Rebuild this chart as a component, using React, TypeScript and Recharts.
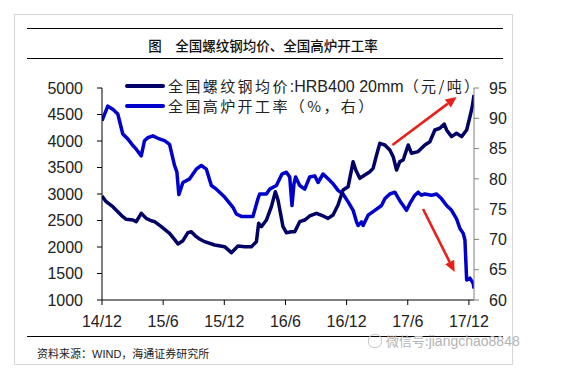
import React from "react";
import { LineChart, Line, XAxis, YAxis, ReferenceLine, Legend } from "recharts";

// x = months since 2014-12
const priceMonths = [0, 0.41, 1.06, 1.55, 2.04, 2.38, 3.03, 3.36, 3.85, 4.34, 4.83, 5.16, 5.82, 6.63, 7.29, 7.45, 7.94, 8.43, 8.76, 9.25, 9.58, 10.07, 11.05, 12.03, 12.69, 13.34, 14.0, 14.66, 15.15, 15.37, 15.64, 16.13, 16.62, 17.01, 17.27, 17.76, 18.09, 18.59, 18.91, 19.4, 19.89, 20.38, 21.04, 21.69, 22.18, 22.67, 23.16, 23.65, 24.15, 24.64, 24.9, 25.29, 25.79, 26.28, 26.6, 26.94, 27.26, 27.75, 28.24, 28.57, 28.9, 29.22, 29.55, 30.04, 30.37, 31.02, 31.68, 32.17, 32.66, 33.15, 33.58, 33.81, 34.3, 34.79, 35.28, 35.78, 36.1, 36.33, 36.5];
const priceValues = [2960, 2855, 2760, 2666, 2572, 2522, 2509, 2478, 2635, 2540, 2496, 2478, 2383, 2258, 2100, 2057, 2119, 2270, 2289, 2195, 2150, 2100, 2038, 2006, 1893, 2019, 2006, 2006, 2100, 2447, 2383, 2509, 2761, 3043, 2887, 2383, 2270, 2289, 2289, 2478, 2509, 2585, 2635, 2585, 2540, 2604, 2792, 3075, 3138, 3610, 3453, 3296, 3358, 3420, 3484, 3736, 3955, 3925, 3830, 3704, 3453, 3610, 3642, 3925, 3768, 3800, 3925, 3987, 4208, 4240, 4320, 4208, 4082, 4145, 4082, 4208, 4458, 4647, 4868];

const rateMonths = [0, 0.57, 1.06, 1.55, 2.04, 2.53, 3.03, 3.36, 3.85, 4.17, 4.5, 4.99, 5.48, 6.14, 6.63, 7.12, 7.35, 7.54, 7.94, 8.6, 9.25, 9.74, 10.24, 10.73, 11.22, 12.03, 12.85, 13.18, 13.67, 14.81, 15.3, 15.47, 16.13, 16.45, 17.11, 17.66, 18.09, 18.42, 18.64, 18.84, 19.0, 19.4, 19.89, 20.38, 20.87, 21.2, 21.69, 22.18, 22.67, 23.16, 23.65, 24.15, 24.64, 24.97, 25.13, 25.46, 25.62, 26.11, 26.77, 27.43, 27.75, 28.24, 28.73, 29.22, 29.55, 29.88, 30.2, 30.7, 31.02, 31.35, 31.68, 32.34, 32.83, 33.32, 33.81, 34.3, 34.79, 35.12, 35.44, 35.61, 35.78, 36.1, 36.43, 36.5];
const rateValues = [89.6, 92.0, 91.5, 90.7, 87.4, 86.6, 85.5, 84.9, 83.8, 86.3, 86.8, 87.1, 86.7, 86.3, 85.7, 82.2, 81.1, 77.4, 79.4, 80.0, 81.6, 82.2, 81.6, 78.9, 78.3, 77.0, 75.3, 74.2, 73.8, 73.8, 76.7, 77.5, 77.5, 78.3, 78.9, 80.8, 81.1, 80.3, 75.6, 79.2, 80.3, 78.9, 78.3, 80.3, 80.5, 79.4, 80.8, 80.0, 79.2, 78.1, 77.5, 76.2, 74.8, 72.9, 72.3, 72.9, 72.3, 74.0, 74.8, 75.6, 76.7, 77.5, 77.8, 76.4, 75.6, 74.8, 75.9, 77.3, 77.8, 77.3, 77.5, 77.3, 77.5, 76.7, 75.6, 74.8, 73.4, 71.8, 71.0, 69.9, 63.3, 63.6, 62.7, 61.9];

const xTicks = [0, 6, 12, 18, 24, 30, 36];
const xTickLabels = ["14/12", "15/6", "15/12", "16/6", "16/12", "17/6", "17/12"];
const leftTicks = [1000, 1500, 2000, 2500, 3000, 3500, 4000, 4500, 5000];
const rightTicks = [60, 65, 70, 75, 80, 85, 90, 95];

const priceName = "全国螺纹钢均价:HRB400 20mm（元/吨）";
const rateName = "全国高炉开工率（%，右）";

// arrows: [x1, y1, x2, y2] in data units (left axis)
const upArrow = [28.5, 3925, 34.8, 4830];
const downArrow = [31.5, 2717, 34.6, 1530];

const priceData = priceMonths.map((m, i) => ({ m, v: priceValues[i] }));
const rateData = rateMonths.map((m, i) => ({ m, v: rateValues[i] }));

const DARK = "#000066";
const BLUE = "#0000cc";
const RED = "#e8201a";

const ArrowShape = (props: any) => {
  const { x1, y1, x2, y2 } = props;
  if ([x1, y1, x2, y2].some((v) => typeof v !== "number" || isNaN(v))) return null;
  const dx = x2 - x1;
  const dy = y2 - y1;
  const len = Math.sqrt(dx * dx + dy * dy);
  const ux = dx / len;
  const uy = dy / len;
  const hl = 11;
  const hw = 5;
  const bx = x2 - ux * hl;
  const by = y2 - uy * hl;
  const px = -uy;
  const py = ux;
  const pts = `${x2},${y2} ${bx + px * hw},${by + py * hw} ${bx - px * hw},${by - py * hw}`;
  return (
    <g>
      <line x1={x1} y1={y1} x2={bx} y2={by} stroke={RED} strokeWidth={2.6} />
      <polygon points={pts} fill={RED} />
    </g>
  );
};

const cjk = "'Noto Sans CJK SC', sans-serif";
const latin = "'Liberation Sans', Arial, 'Noto Sans CJK SC', sans-serif";

const LegendRow = ({ color, parts }: { color: string; parts: [string, boolean][] }) => (
  <div style={{ display: "flex", alignItems: "center", height: 20 }}>
    <div style={{ width: 40, height: 4, background: color, borderRadius: 2, marginRight: 3 }} />
    <div style={{ whiteSpace: "nowrap", color: "#222", lineHeight: "18px", height: 18, overflow: "visible" }}>
      {parts.map(([t, isCjk], i) => (
        <span
          key={i}
          style={
            isCjk
              ? { fontFamily: cjk, fontSize: 15, letterSpacing: 2.4 }
              : { fontFamily: latin, fontSize: 16 }
          }
        >
          {t}
        </span>
      ))}
    </div>
  </div>
);

const renderLegend = () => (
  <div style={{ textAlign: "left" }}>
    <LegendRow
      color={DARK}
      parts={[
        ["全国螺纹钢均价", true],
        [":HRB400 20mm", false],
        ["（元/吨）", true],
      ]}
    />
    <LegendRow color={BLUE} parts={[["全国高炉开工率（%，右）", true]]} />
  </div>
);

export default function App() {
  return (
    <div style={{ position: "absolute", left: 0, top: 0, width: 563, height: 377, background: "#fff", overflow: "hidden" }}>
      <div style={{ position: "absolute", left: 14, top: 14, width: 497, height: 349, border: "1px solid #d6d6d6" }} />
      <div style={{ position: "absolute", left: 27, top: 28, width: 476, height: 1, background: "#000" }} />
      <div style={{ position: "absolute", left: 27, top: 58, width: 476, height: 1, background: "#000" }} />
      <div style={{ position: "absolute", left: 27, top: 336, width: 476, height: 1, background: "#000" }} />
      <div
        style={{
          position: "absolute",
          left: 0,
          width: 526,
          top: 35,
          textAlign: "center",
          fontFamily: cjk,
          fontSize: 13.5,
          lineHeight: "20px",
          color: "#111",
          fontWeight: 500,
        }}
      >
        图　全国螺纹钢均价、全国高炉开工率
      </div>
      <div
        style={{
          position: "absolute",
          left: 37,
          top: 345,
          fontFamily: cjk,
          fontSize: 11,
          lineHeight: "16px",
          color: "#222",
          whiteSpace: "nowrap",
        }}
      >
        资料来源：<span style={{ fontFamily: latin }}>WIND</span>，海通证券研究所
      </div>
      <div style={{ position: "absolute", left: 368, top: 334, width: 12, height: 12, borderRadius: 6, border: "1px solid #c8c8c8" }} />
      <div
        style={{
          position: "absolute",
          left: 386,
          top: 332,
          fontFamily: cjk,
          fontSize: 13,
          lineHeight: "18px",
          color: "#b4b4b4",
          whiteSpace: "nowrap",
        }}
      >
        微信号:<span style={{ fontFamily: latin, fontSize: 14 }}>jiangchao8848</span>
      </div>
      <div style={{ position: "absolute", left: 0, top: 0 }}>
        <LineChart width={563} height={377} margin={{ top: 88, right: 0, bottom: 47, left: 0 }}>
          <XAxis
            dataKey="m"
            type="number"
            domain={[0, 36.5]}
            ticks={xTicks}
            tickFormatter={(v: number) => xTickLabels[xTicks.indexOf(v)] ?? ""}
            height={30}
            axisLine={{ stroke: "#000" }}
            tickLine={{ stroke: "#000" }}
            tickSize={5}
            tickMargin={11}
            tick={{ fill: "#222", fontSize: 16, fontFamily: latin }}
            allowDataOverflow
          />
          <YAxis
            yAxisId="left"
            domain={[1000, 5000]}
            ticks={leftTicks}
            width={102}
            axisLine={{ stroke: "#000" }}
            tickLine={{ stroke: "#000" }}
            tickSize={5}
            tickMargin={14}
            tick={{ fill: "#222", fontSize: 16, fontFamily: latin }}
            allowDataOverflow
          />
          <YAxis
            yAxisId="right"
            orientation="right"
            domain={[60, 95]}
            ticks={rightTicks}
            width={89}
            axisLine={{ stroke: "#808080" }}
            tickLine={{ stroke: "#808080" }}
            tickSize={5}
            tickMargin={10}
            tick={{ fill: "#222", fontSize: 16, fontFamily: latin }}
            allowDataOverflow
          />
          <Legend
            content={renderLegend}
            layout="horizontal"
            verticalAlign="middle"
            align="center"
            wrapperStyle={{ position: "absolute", left: 125, top: 76, width: 380, height: 40 }}
          />
          <Line
            name={rateName}
            yAxisId="right"
            data={rateData}
            dataKey="v"
            stroke={BLUE}
            strokeWidth={3.5}
            dot={false}
            type="linear"
            isAnimationActive={false}
            strokeLinejoin="round"
          />
          <Line
            name={priceName}
            yAxisId="left"
            data={priceData}
            dataKey="v"
            stroke={DARK}
            strokeWidth={3.5}
            dot={false}
            type="linear"
            isAnimationActive={false}
            strokeLinejoin="round"
          />
          <ReferenceLine
            yAxisId="left"
            segment={[
              { x: upArrow[0], y: upArrow[1] },
              { x: upArrow[2], y: upArrow[3] },
            ]}
            shape={ArrowShape}
            ifOverflow="visible"
          />
          <ReferenceLine
            yAxisId="left"
            segment={[
              { x: downArrow[0], y: downArrow[1] },
              { x: downArrow[2], y: downArrow[3] },
            ]}
            shape={ArrowShape}
            ifOverflow="visible"
          />
        </LineChart>
      </div>
    </div>
  );
}
